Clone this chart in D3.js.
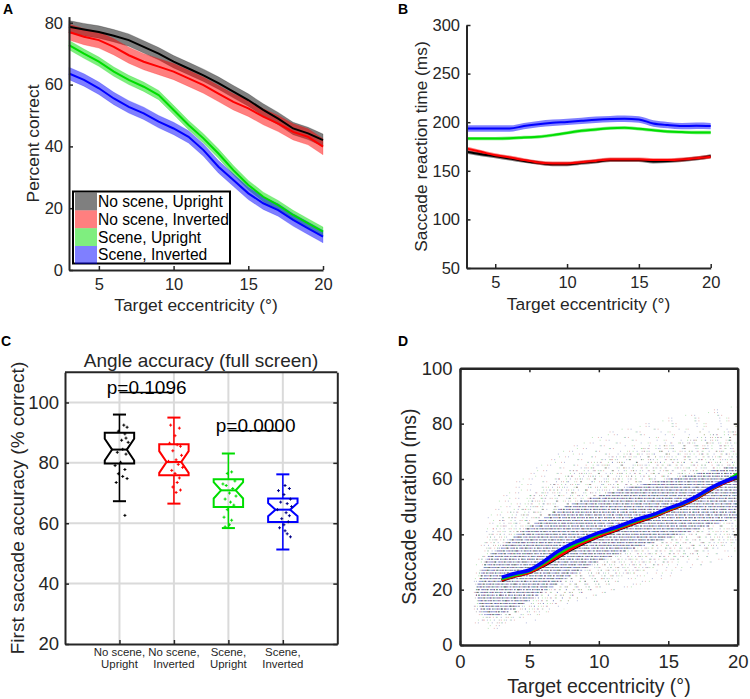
<!DOCTYPE html>
<html>
<head>
<meta charset="utf-8">
<script src="https://cdn.jsdelivr.net/npm/d3@7"></script>
<style>
body { margin: 0; background: #fff; }
text { font-family: "Liberation Sans", Arial, sans-serif; fill: #262626; }
</style>
</head>
<body>
<div id="chart-area"></div>
<script>
/*
*    four panel saccade figure
*/

var width = 750;
var height = 699;
var ink = "#262626";

// conditions, in drawing order
var condNames = ["No scene, Upright", "No scene, Inverted", "Scene, Upright", "Scene, Inverted"];
var condColors = ["#000000", "#ff0000", "#00dd00", "#0000ff"];

// target eccentricity (deg), shared by A, B, D
var eccX = [3, 4, 5, 6, 7, 8, 9, 10, 11, 12, 13, 14, 15, 16, 17, 18, 19, 20];

// A: percent correct (mean, sem)
var pcNoSceneUp  = [78.7, 77.8, 77.0, 75.8, 74.4, 72.2, 70.0, 67.4, 65.2, 63.0, 60.5, 57.7, 55.0, 51.8, 49.0, 45.8, 44.2, 42.0];
var pcNoSceneInv = [77.0, 75.5, 74.4, 72.2, 69.5, 67.4, 65.8, 64.2, 62.0, 59.8, 57.1, 54.4, 52.3, 49.6, 47.4, 44.7, 43.1, 39.9];
var pcSceneUp    = [72.8, 70.0, 67.4, 64.2, 61.5, 59.3, 56.6, 51.8, 46.9, 42.6, 37.7, 32.3, 27.5, 23.7, 21.0, 17.8, 15.1, 12.4];
var pcSceneInv   = [63.6, 61.5, 58.8, 55.5, 52.8, 50.7, 48.0, 45.8, 43.1, 38.8, 33.4, 29.1, 24.8, 21.6, 19.4, 16.2, 13.5, 10.8];
var pcErr = [2.0, 2.6, 1.5, 2.0];

// B: saccade reaction time (ms)
var rtNoSceneUp  = [169.5, 167.0, 165.0, 162.6, 160.2, 158.2, 156.8, 156.8, 158.2, 159.5, 161.0, 161.0, 161.0, 159.5, 160.0, 161.0, 162.6, 165.0];
var rtNoSceneInv = [172.9, 169.5, 166.0, 163.7, 161.0, 158.5, 157.5, 157.5, 158.9, 160.2, 161.6, 161.6, 161.6, 161.0, 161.0, 161.6, 163.0, 164.4];
var rtSceneUp    = [183.2, 183.2, 183.2, 183.5, 184.3, 185.0, 186.7, 189.0, 191.2, 192.5, 193.9, 194.2, 193.2, 191.8, 190.4, 189.8, 189.4, 189.4];
var rtSceneInv   = [193.5, 193.5, 193.5, 193.5, 196.0, 198.0, 199.4, 200.3, 201.4, 202.5, 203.2, 203.5, 202.8, 198.7, 197.0, 196.0, 196.3, 196.0];
var rtErr = [2.0, 2.0, 1.7, 3.3];

// C: first saccade accuracy boxplots
var boxLabels = [["No scene,", "Upright"], ["No scene,", "Inverted"], ["Scene,", "Upright"], ["Scene,", "Inverted"]];
var boxMedian = [84.4, 80.3, 70.9, 64.5];
var boxQ1     = [79.8, 75.9, 65.4, 60.4];
var boxQ3     = [90.0, 86.2, 74.6, 68.2];
var boxNotch  = [3.6, 3.6, 2.7, 2.2];
var whiskLo   = [67.3, 66.5, 58.4, 51.3];
var whiskHi   = [96.0, 95.0, 83.1, 76.2];
var subjAcc = [
    [92.5, 91.8, 90.5, 89.6, 88.2, 87.5, 86.8, 84.5, 83.5, 82.9, 80.2, 79.1, 77.8, 76.4, 75.5, 74.8, 73.5, 62.6],
    [92.5, 91.5, 89.0, 86.5, 86.0, 85.5, 84.0, 82.5, 81.0, 80.5, 79.5, 78.5, 77.5, 76.5, 75.0, 73.5, 72.0, 71.0, 70.2],
    [77.0, 76.5, 74.0, 73.0, 72.5, 71.5, 70.0, 69.0, 68.0, 67.0, 66.0, 64.5, 62.0, 61.0, 59.5, 58.8],
    [72.5, 71.5, 70.8, 69.5, 68.0, 67.0, 66.5, 65.5, 64.5, 63.5, 62.5, 61.5, 60.5, 59.5, 58.5, 57.5, 56.5, 55.5]
];
var subjJitter = [
    [0.08, 0.14, -0.02, 0.10, 0.12, 0.04, 0.16, 0.06, -0.04, 0.12, 0.02, -0.08, 0.10, -0.02, 0.06, 0.14, -0.06, 0.10],
    [-0.06, 0.10, 0.02, -0.08, 0.06, 0.12, -0.02, 0.14, 0.04, -0.10, 0.08, 0.16, -0.04, 0.02, 0.10, 0.06, -0.02, 0.12, 0.04],
    [0.06, -0.02, 0.12, -0.10, -0.04, 0.08, 0.02, 0.14, -0.06, 0.04, 0.10, -0.02, -0.08, 0.06, 0.02, -0.06],
    [0.04, 0.12, -0.08, 0.02, 0.14, -0.04, 0.08, 0.16, -0.10, 0.06, 0.12, -0.02, 0.10, 0.02, -0.06, 0.04, 0.08, 0.14]
];
var sigPairs  = [[1, 2], [3, 4]];
var sigLevel  = [103.3, 90.6];
var sigLabels = ["p=0.1096", "p=0.0000"];

// D: saccade duration (ms), mean per condition
var durNoSceneUp  = [23.3, 24.9, 26.2, 28.6, 31.5, 34.5, 37.0, 39.2, 41.0, 42.9, 44.8, 46.5, 48.6, 50.5, 52.9, 55.9, 58.5, 60.4];
var durNoSceneInv = [23.5, 25.0, 26.3, 28.8, 31.8, 34.8, 37.3, 39.4, 41.2, 43.1, 44.9, 46.6, 48.7, 50.6, 53.0, 56.0, 58.6, 60.5];
var durSceneUp    = [23.8, 25.2, 26.6, 29.3, 32.6, 35.5, 37.8, 39.9, 41.6, 43.4, 45.2, 46.8, 48.9, 50.8, 53.2, 56.2, 58.9, 62.0];
var durSceneInv   = [24.5, 25.9, 27.1, 30.1, 33.7, 36.5, 38.6, 40.6, 42.2, 44.0, 45.8, 47.3, 49.4, 51.2, 53.6, 56.6, 59.0, 60.8];
// D: single-trial cloud (durations are whole ms): dense core, halo and faint fringe limits
var cloudX   = [1.0, 1.5, 2, 3, 4, 5, 6, 7, 8, 10, 12, 14, 16, 18, 20];
var coreLo   = [20, 12, 10, 11, 13, 16, 19, 22, 25, 30, 34, 37, 40, 43, 46];
var coreHi   = [18, 26, 32, 36, 40, 43, 46, 49, 51, 54, 57, 59, 61, 63, 65];
var haloLo   = [12, 9, 8, 8, 9, 11, 13, 15, 17, 21, 25, 28, 31, 34, 37];
var haloHi   = [20, 30, 40, 46, 50, 54, 57, 60, 63, 67, 70, 72, 74, 76, 78];
var fringeLo = [8, 7, 6, 6, 7, 8, 10, 12, 14, 17, 20, 23, 26, 29, 32];
var fringeHi = [26, 36, 46, 54, 59, 63, 66, 69, 72, 76, 79, 81, 83, 85, 87];

var svg = d3.select("#chart-area").append("svg").attr("width", width).attr("height", height);

function panelLetter(txt, x, y) {
    svg.append("text").attr("x", x).attr("y", y).attr("font-size", "14px")
        .attr("font-weight", "bold").style("fill", "#000").text(txt);
}

function styleAxis(g, fs) {
    g.select(".domain").attr("stroke", ink).attr("stroke-width", 2);
    g.selectAll(".tick line").attr("stroke", ink).attr("stroke-width", 1.5);
    g.selectAll(".tick text").attr("font-size", fs).attr("font-family", "Liberation Sans, Arial, sans-serif").attr("fill", ink);
}

function yLabel(txt, x, y, fs) {
    svg.append("text").attr("transform", "translate(" + x + "," + y + ") rotate(-90)")
        .attr("text-anchor", "middle").attr("dy", "0.35em").attr("font-size", fs).text(txt);
}

/* ---------- A: percent correct ---------- */
var xA = d3.scaleLinear().domain([3, 20]).range([69, 323]);
var yA = d3.scaleLinear().domain([0, 82]).range([270, 16.6]);
var pcSeries = [pcNoSceneUp, pcNoSceneInv, pcSceneUp, pcSceneInv];

var gA = svg.append("g");
pcSeries.forEach(function(vals, i) {
    var area = d3.area().x(function(d, j) { return xA(eccX[j]); })
        .y0(function(d) { return yA(d - pcErr[i]); })
        .y1(function(d) { return yA(d + pcErr[i]); });
    gA.append("path").datum(vals).attr("d", area)
        .attr("fill", condColors[i]).attr("fill-opacity", 0.5)
        .attr("stroke", condColors[i]).attr("stroke-opacity", 0.25).attr("stroke-width", 0.8);
});
pcSeries.forEach(function(vals, i) {
    var line = d3.line().x(function(d, j) { return xA(eccX[j]); }).y(function(d) { return yA(d); });
    gA.append("path").datum(vals).attr("d", line).attr("fill", "none")
        .attr("stroke", condColors[i]).attr("stroke-width", 2);
});

var axA = svg.append("g").attr("transform", "translate(0,270)")
    .call(d3.axisBottom(xA).tickValues([5, 10, 15, 20]).tickSizeInner(-4).tickSizeOuter(0).tickPadding(8));
styleAxis(axA, "16.5px");
var ayA = svg.append("g").attr("transform", "translate(69,0)")
    .call(d3.axisLeft(yA).tickValues([0, 20, 40, 60, 80]).tickSizeInner(-4).tickSizeOuter(0).tickPadding(6));
styleAxis(ayA, "16.5px");
svg.append("text").attr("x", 196).attr("y", 310.5).attr("text-anchor", "middle").attr("font-size", "17.4px").text("Target eccentricity (°)");
yLabel("Percent correct", 33, 143.5, "17.4px");

// legend
var legA = svg.append("g");
legA.append("rect").attr("x", 73).attr("y", 191.5).attr("width", 157).attr("height", 72)
    .attr("fill", "#fff").attr("stroke", "#000").attr("stroke-width", 2);
condNames.forEach(function(name, i) {
    var cy = 201.5 + i * 17.8;
    legA.append("rect").attr("x", 75).attr("y", cy - 8.9).attr("width", 22).attr("height", 17.8)
        .attr("fill", condColors[i]).attr("fill-opacity", 0.5);
    legA.append("text").attr("x", 98).attr("y", cy + 5.5).attr("font-size", "15.6px").style("fill", "#000").text(name);
});
panelLetter("A", 3, 14);

/* ---------- B: reaction time ---------- */
var xB = d3.scaleLinear().domain([3, 20]).range([466.5, 710.7]);
var yB = d3.scaleLinear().domain([50, 300]).range([268, 25]);
var rtSeries = [rtNoSceneUp, rtNoSceneInv, rtSceneUp, rtSceneInv];
var gB = svg.append("g");
rtSeries.forEach(function(vals, i) {
    var area = d3.area().curve(d3.curveMonotoneX).x(function(d, j) { return xB(eccX[j]); })
        .y0(function(d) { return yB(d - rtErr[i]); })
        .y1(function(d) { return yB(d + rtErr[i]); });
    gB.append("path").datum(vals).attr("d", area)
        .attr("fill", condColors[i]).attr("fill-opacity", 0.5);
});
rtSeries.forEach(function(vals, i) {
    var line = d3.line().curve(d3.curveMonotoneX).x(function(d, j) { return xB(eccX[j]); }).y(function(d) { return yB(d); });
    gB.append("path").datum(vals).attr("d", line).attr("fill", "none")
        .attr("stroke", condColors[i]).attr("stroke-width", 2);
});
var axB = svg.append("g").attr("transform", "translate(0,268)")
    .call(d3.axisBottom(xB).tickValues([5, 10, 15, 20]).tickSizeInner(-4).tickSizeOuter(0).tickPadding(8));
styleAxis(axB, "16.5px");
var ayB = svg.append("g").attr("transform", "translate(466.5,0)")
    .call(d3.axisLeft(yB).tickValues([50, 100, 150, 200, 250, 300]).tickSizeInner(-4).tickSizeOuter(0).tickPadding(6.5));
styleAxis(ayB, "16.5px");
svg.append("text").attr("x", 588.6).attr("y", 310).attr("text-anchor", "middle").attr("font-size", "17.4px").text("Target eccentricity (°)");
yLabel("Saccade reaction time (ms)", 421, 146.5, "17.3px");
panelLetter("B", 398, 14);

/* ---------- C: boxplots ---------- */
var xC = d3.scaleLinear().domain([0, 5]).range([65, 337.3]);
var yC = d3.scaleLinear().domain([20, 110]).range([644, 372.3]);
var gC = svg.append("g");
// grid
gC.selectAll(".hgrid").data([40, 60, 80, 100]).enter().append("line")
    .attr("x1", xC(0)).attr("x2", xC(5)).attr("y1", function(d) { return yC(d); }).attr("y2", function(d) { return yC(d); })
    .attr("stroke", "#dadada").attr("stroke-width", 2);
gC.selectAll(".vgrid").data([1, 2, 3, 4]).enter().append("line")
    .attr("y1", yC(20)).attr("y2", yC(110)).attr("x1", function(d) { return xC(d); }).attr("x2", function(d) { return xC(d); })
    .attr("stroke", "#dadada").attr("stroke-width", 2);

var boxHalf = 0.27, capHalf = 0.12;
boxMedian.forEach(function(med, i) {
    var c = i + 1, col = condColors[i];
    var xl = xC(c - boxHalf), xr = xC(c + boxHalf), nl = xC(c - boxHalf / 2), nr = xC(c + boxHalf / 2);
    // whiskers and caps
    gC.append("line").attr("x1", xC(c)).attr("x2", xC(c)).attr("y1", yC(boxQ3[i])).attr("y2", yC(whiskHi[i]))
        .attr("stroke", col).attr("stroke-width", 1.5);
    gC.append("line").attr("x1", xC(c)).attr("x2", xC(c)).attr("y1", yC(boxQ1[i])).attr("y2", yC(whiskLo[i]))
        .attr("stroke", col).attr("stroke-width", 1.5);
    [whiskHi[i], whiskLo[i]].forEach(function(w) {
        gC.append("line").attr("x1", xC(c - capHalf)).attr("x2", xC(c + capHalf)).attr("y1", yC(w)).attr("y2", yC(w))
            .attr("stroke", col).attr("stroke-width", 2);
    });
    var p = d3.path();
    p.moveTo(xl, yC(boxQ3[i])); p.lineTo(xr, yC(boxQ3[i]));
    p.lineTo(xr, yC(med + boxNotch[i])); p.lineTo(nr, yC(med)); p.lineTo(xr, yC(med - boxNotch[i]));
    p.lineTo(xr, yC(boxQ1[i])); p.lineTo(xl, yC(boxQ1[i]));
    p.lineTo(xl, yC(med - boxNotch[i])); p.lineTo(nl, yC(med)); p.lineTo(xl, yC(med + boxNotch[i]));
    p.closePath();
    gC.append("path").attr("d", p.toString()).attr("fill", "none").attr("stroke", col).attr("stroke-width", 2);
    gC.append("line").attr("x1", nl).attr("x2", nr).attr("y1", yC(med)).attr("y2", yC(med))
        .attr("stroke", col).attr("stroke-width", 2);
    // subjects
    subjAcc[i].forEach(function(v, k) {
        var px = xC(c + subjJitter[i][k]), py = yC(v);
        gC.append("path").attr("d", "M" + (px - 1.5) + "," + py + "h3M" + px + "," + (py - 1.5) + "v3")
            .attr("stroke", i === 3 ? "#000088" : col).attr("stroke-width", 1);
    });
});

// significance bars
sigPairs.forEach(function(pr, i) {
    gC.append("line").attr("x1", xC(pr[0])).attr("x2", xC(pr[1])).attr("y1", yC(sigLevel[i])).attr("y2", yC(sigLevel[i]))
        .attr("stroke", "#000").attr("stroke-width", 1.5);
    gC.append("text").attr("x", xC((pr[0] + pr[1]) / 2)).attr("y", yC(sigLevel[i]) + 1)
        .attr("text-anchor", "middle").attr("font-size", "19px").style("fill", "#000").text(sigLabels[i]);
});

var axC = svg.append("g").attr("transform", "translate(0,644)")
    .call(d3.axisBottom(xC).tickValues([1, 2, 3, 4]).tickSizeInner(-4).tickSizeOuter(0).tickFormat(""));
styleAxis(axC, "11px");
var ayC = svg.append("g").attr("transform", "translate(65,0)")
    .call(d3.axisLeft(yC).tickValues([20, 40, 60, 80, 100]).tickSizeInner(-4).tickSizeOuter(0).tickPadding(6));
styleAxis(ayC, "18.5px");
var ayC2 = svg.append("g").attr("transform", "translate(337.3,0)")
    .call(d3.axisRight(yC).tickValues([20, 40, 60, 80, 100]).tickSizeInner(-4).tickSizeOuter(0).tickFormat(""));
styleAxis(ayC2, "11px");
svg.append("line").attr("x1", xC(0)).attr("x2", xC(5)).attr("y1", yC(110)).attr("y2", yC(110))
    .attr("stroke", ink).attr("stroke-width", 2);
boxLabels.forEach(function(lines, i) {
    var t = svg.append("text").attr("x", xC(i + 1)).attr("y", 656).attr("text-anchor", "middle").attr("font-size", "11.4px");
    t.append("tspan").attr("x", xC(i + 1)).text(lines[0]);
    t.append("tspan").attr("x", xC(i + 1)).attr("dy", 11.8).text(lines[1]);
});
svg.append("text").attr("x", 201).attr("y", 366.5).attr("text-anchor", "middle").attr("font-size", "19px")
    .text("Angle accuracy (full screen)");
yLabel("First saccade accuracy (% correct)", 17, 508, "19px");
panelLetter("C", 1, 346);

/* ---------- D: saccade duration ---------- */
var xD = d3.scaleLinear().domain([0, 20]).range([460, 737.7]);
var yD = d3.scaleLinear().domain([0, 100]).range([645, 368.3]);
var gD = svg.append("g");

function band(lo, hi) {
    return {lo: d3.scaleLinear().domain(cloudX).range(lo), hi: d3.scaleLinear().domain(cloudX).range(hi)};
}

function runFor(m, b) {
    var x0 = null, x1 = null;
    for (var x = 1; x <= 20.001; x += 0.05) {
        if (b.lo(x) <= m && b.hi(x) >= m) { if (x0 === null) x0 = x; x1 = x; }
    }
    return x0 === null ? null : [x0, x1];
}

// dotted stripes, one per whole ms; offsets scrambled per row so no diagonals appear
var cloudLayers = [
    {band: band(fringeLo, fringeHi), op: 0.35, dots: [
        {color: "#2c3c9c", dash: "1 23", offset: 0},
        {color: "#c03838", dash: "1 29", offset: 9},
        {color: "#38b838", dash: "1 31", offset: 17}]},
    {band: band(haloLo, haloHi), op: 0.4, dots: [
        {color: "#2c3c9c", dash: "1 11", offset: 0},
        {color: "#c03838", dash: "1 17", offset: 5},
        {color: "#38b838", dash: "1 13", offset: 8},
        {color: "#555555", dash: "1 19", offset: 11}]},
    {band: band(coreLo, coreHi), op: 0.6, dots: [
        {color: "#4150b0", dash: "5 1 2 1", offset: 0},
        {color: "#c03a3a", dash: "1 7", offset: 2},
        {color: "#30b030", dash: "1 9", offset: 5},
        {color: "#555555", dash: "1 8", offset: 3}]}
];
d3.range(1, 100).forEach(function(m) {
    var shift = (m * 37) % 23;
    cloudLayers.forEach(function(layer) {
        var r = runFor(m, layer.band);
        if (!r) return;
        layer.dots.forEach(function(s) {
            gD.append("line").attr("x1", xD(r[0])).attr("x2", xD(r[1])).attr("y1", yD(m)).attr("y2", yD(m))
                .attr("stroke", s.color).attr("stroke-width", 1).attr("stroke-dasharray", s.dash)
                .attr("stroke-dashoffset", s.offset + shift).attr("stroke-opacity", layer.op);
        });
    });
});

var durSeries = [durNoSceneUp, durNoSceneInv, durSceneUp, durSceneInv];
var durWidth = [3, 3, 2.2, 3.6];
durSeries.forEach(function(vals, i) {
    var line = d3.line().curve(d3.curveMonotoneX).x(function(d, j) { return xD(eccX[j]); }).y(function(d) { return yD(d); });
    gD.append("path").datum(vals).attr("d", line).attr("fill", "none")
        .attr("stroke", condColors[i]).attr("stroke-width", durWidth[i]);
});

var axD = svg.append("g").attr("transform", "translate(0,645)")
    .call(d3.axisBottom(xD).tickValues([0, 5, 10, 15, 20]).tickSizeInner(-4).tickSizeOuter(0).tickPadding(10));
styleAxis(axD, "18.5px");
var ayD = svg.append("g").attr("transform", "translate(460,0)")
    .call(d3.axisLeft(yD).tickValues([0, 20, 40, 60, 80, 100]).tickSizeInner(-4).tickSizeOuter(0).tickPadding(7.5));
styleAxis(ayD, "18.5px");
var axD2 = svg.append("g").attr("transform", "translate(0,368.3)")
    .call(d3.axisTop(xD).tickValues([0, 5, 10, 15, 20]).tickSizeInner(-4).tickSizeOuter(0).tickFormat(""));
styleAxis(axD2, "11px");
var ayD2 = svg.append("g").attr("transform", "translate(737.7,0)")
    .call(d3.axisRight(yD).tickValues([0, 20, 40, 60, 80, 100]).tickSizeInner(-4).tickSizeOuter(0).tickFormat(""));
styleAxis(ayD2, "11px");
[axD, ayD, axD2, ayD2].forEach(function(g) { g.select(".domain").attr("stroke-width", 2.5); });
svg.append("text").attr("x", 599).attr("y", 693).attr("text-anchor", "middle").attr("font-size", "19.5px").text("Target eccentricity (°)");
yLabel("Saccade duration (ms)", 409, 506.7, "19.5px");
panelLetter("D", 398, 346);
</script>
</body>
</html>
